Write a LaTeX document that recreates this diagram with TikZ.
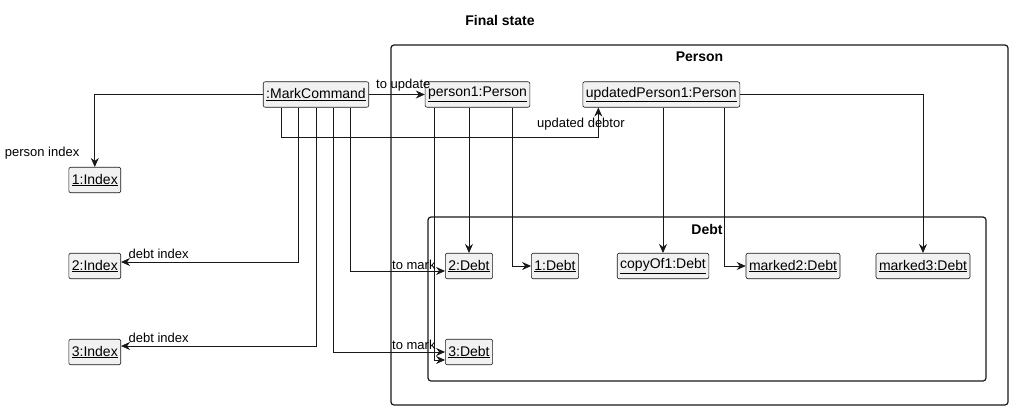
\documentclass[tikz,border=0pt]{standalone}
\usepackage{fontspec}
\setmainfont{Liberation Sans}
\usetikzlibrary{arrows.meta}
\definecolor{ln}{HTML}{181818}
\definecolor{bx}{HTML}{F1F1F1}
\begin{document}
\begin{tikzpicture}[x=1pt,y=-1pt,
  obj/.style={draw=ln,fill=bx,rounded corners=2pt,line width=0.6pt,inner xsep=3pt,inner ysep=0pt,minimum height=25.5pt,font=\fontsize{14}{16}\selectfont},
  arr/.style={draw=ln,line width=0.7pt,-{Stealth[length=9pt,width=8pt,inset=3pt]}},
  lbl/.style={font=\fontsize{13}{15}\selectfont,inner sep=0pt,text=black},
  pkg/.style={draw=ln,rounded corners=3pt,line width=1.2pt},
  ttl/.style={font=\bfseries\fontsize{14}{16}\selectfont,inner sep=0pt}]
\useasboundingbox (0,0) rectangle (1013,410);
% packages
\draw[pkg] (391,45) rectangle (1008,405);
\draw[pkg] (428,217) rectangle (986,381);
\node[ttl] (ft) at (500,20) {Final state};
\node[ttl] (pt) at (699.5,57) {Person};
\node[ttl] (dt) at (707,229) {Debt};
% objects
\node[obj] (mc) at (316,94.5) {\underline{:MarkCommand}};
\node[obj] (p1) at (477.5,94.5) {\underline{person1:Person}};
\node[obj] (up) at (661.3,94.5) {\underline{updatedPerson1:Person}};
\node[obj] (i1) at (94.8,180) {\underline{1:Index}};
\node[obj] (i2) at (94.8,266) {\underline{2:Index}};
\node[obj] (i3) at (94.8,352) {\underline{3:Index}};
\node[obj] (d2) at (469,266) {\underline{2:Debt}};
\node[obj] (d3) at (469,352) {\underline{3:Debt}};
\node[obj] (d1) at (555,266) {\underline{1:Debt}};
\node[obj] (c1) at (663,266) {\underline{copyOf1:Debt}};
\node[obj] (m2) at (793,266) {\underline{marked2:Debt}};
\node[obj] (m3) at (923,266) {\underline{marked3:Debt}};
% connectors
\draw[arr] (mc.west) -| (i1.north);
\draw[arr] (mc.east) -- (p1.west);
\draw[arr] ([xshift=-35pt]mc.south) -- ++(0,29.5) -| ([xshift=-63pt]up.south);
\draw[arr] ([xshift=-17.5pt]mc.south) |- ([yshift=4pt]i2.east);
\draw[arr] (mc.south) |- ([yshift=6pt]i3.east);
\draw[arr] ([xshift=17pt]mc.south) |- (d3.west);
\draw[arr] ([xshift=34pt]mc.south) |- ([yshift=-5pt]d2.west);
\draw[arr] ([xshift=-43.5pt]p1.south) |- ([yshift=-8pt]d3.west);
\draw[arr] (p1.south -| d2.north) -- (d2.north);
\draw[arr] ([xshift=34.5pt]p1.south) |- (d1.west);
\draw[arr] (up.south -| c1.north) -- (c1.north);
\draw[arr] ([xshift=63pt]up.south) |- (m2.west);
\draw[arr] (up.east) -| (m3.north);
% labels
\node[lbl,anchor=east] (lpi) at (79.5,153) {person index};
\node[lbl,anchor=west] (ltu) at (376,85) {to update};
\node[lbl,anchor=west] (lud) at (537,124.5) {updated debtor};
\node[lbl,anchor=west] (ldi2) at (128.5,253.5) {debt index};
\node[lbl,anchor=west] (ldi3) at (128.5,337.5) {debt index};
\node[lbl,anchor=west] (ltm2) at (392,264.5) {to mark};
\node[lbl,anchor=west] (ltm3) at (392,345) {to mark};
\end{tikzpicture}
\end{document}
